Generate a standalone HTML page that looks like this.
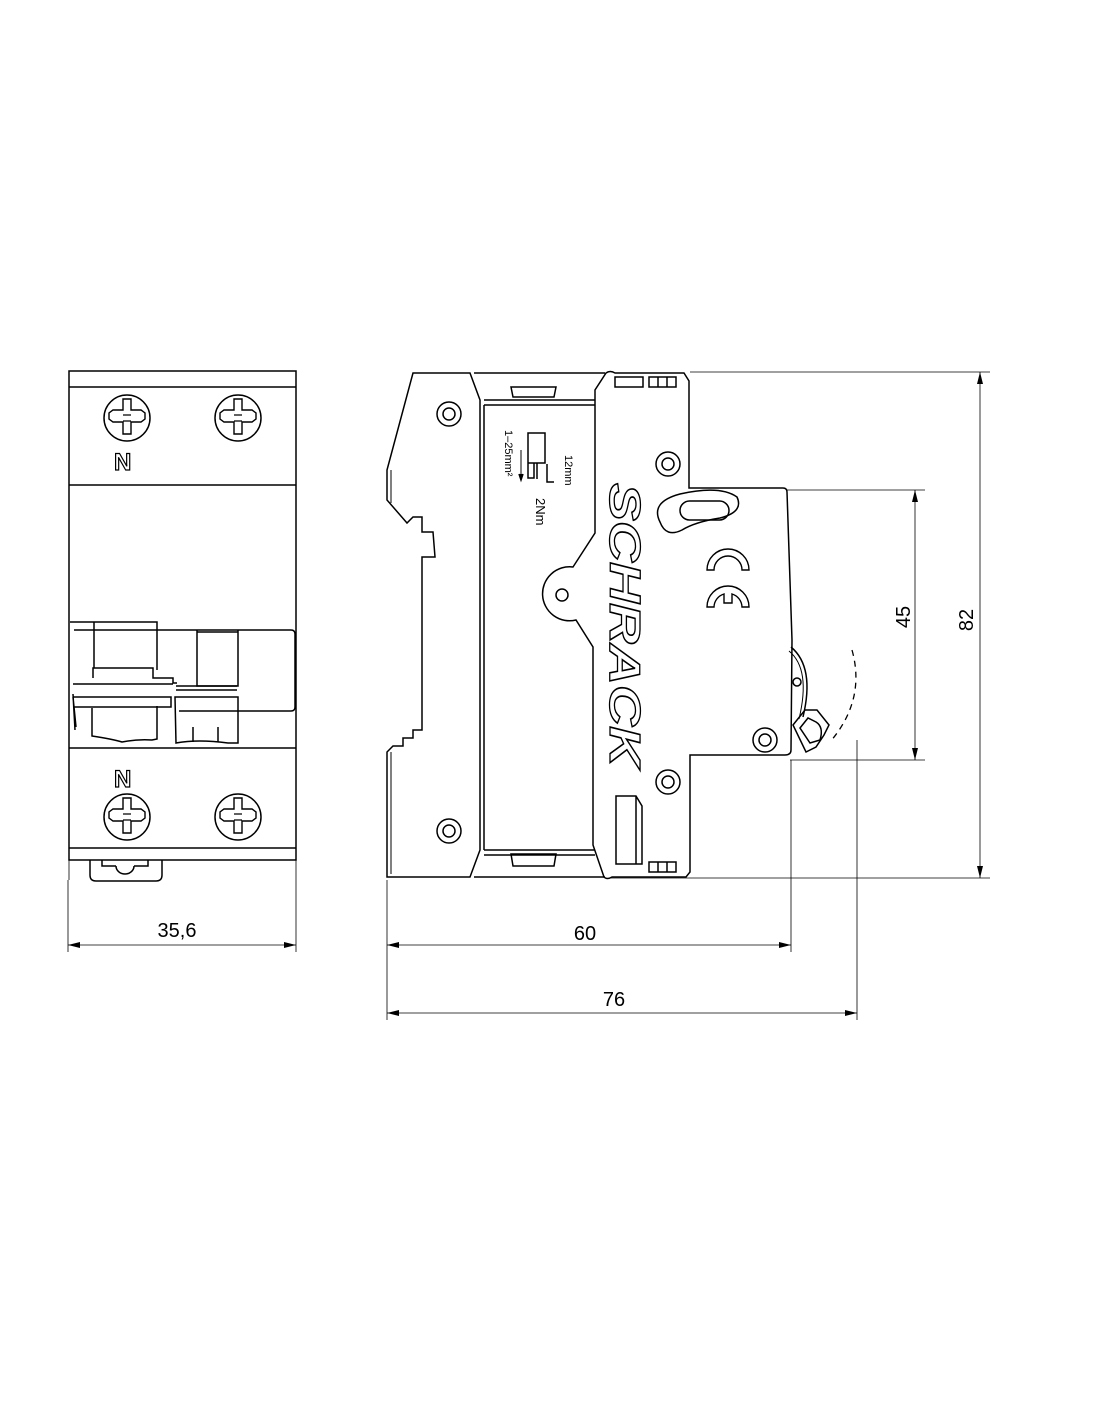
<!DOCTYPE html>
<html><head><meta charset="utf-8"><style>
html,body{margin:0;padding:0;background:#fff;}
svg{display:block;}
text{font-family:"Liberation Sans",sans-serif;}
</style></head><body>
<svg width="1100" height="1422" viewBox="0 0 1100 1422" xmlns="http://www.w3.org/2000/svg">
<defs>
<marker id="ar" viewBox="0 0 12 6" refX="12" refY="3" markerWidth="12" markerHeight="6" orient="auto-start-reverse" markerUnits="userSpaceOnUse"><path d="M0,0 L12,3 L0,6 z" fill="#000"/></marker>
<g id="screw"><circle r="23" fill="none" stroke="#000" stroke-width="1.5"/><path d="M-4,-19 h8 v11 h10 l4,3 v6 l-4,3 h-10 v12 h-8 v-12 h-10 l-4,-3 v-6 l4,-3 h10 z" fill="none" stroke="#000" stroke-width="1.4"/><path d="M-4,-3 h8 M-4,3 h8" stroke="#000" stroke-width="1.2"/></g>
<g id="ring"><circle r="12" fill="none" stroke="#000" stroke-width="1.5"/><circle r="6" fill="none" stroke="#000" stroke-width="1.5"/></g>
</defs>
<g fill="none" stroke="#000" stroke-width="1.5">
<!-- LEFT VIEW -->
<rect x="69" y="371" width="227" height="489"/>
<line x1="69" y1="387" x2="296" y2="387"/>
<line x1="69" y1="485" x2="296" y2="485"/>
<line x1="69" y1="748" x2="296" y2="748"/>
<line x1="69" y1="848" x2="296" y2="848"/>
<line x1="69" y1="860" x2="69" y2="880" stroke-width="0.8"/>
<line x1="296" y1="860" x2="296" y2="880" stroke-width="0.8"/>
<path d="M90,860 v15 q0,6 6,6 h60 q6,0 6,-6 v-15"/>
<path d="M102,860 v6 h14 M148,860 v6 h-14 M116,866 a9,8 0 0 0 18,0"/>
<use href="#screw" x="127" y="418"/>
<use href="#screw" x="238" y="418"/>
<use href="#screw" x="127" y="817"/>
<use href="#screw" x="238" y="817"/>
<!-- toggle -->
<path d="M70,622 h24 v46 M94,622 h63 v48"/>
<path d="M74,630 h217 q4,0 4,4 v73 q0,4 -4,4 h-112"/>
<path d="M197,630 v56 h41 v-56"/>
<path d="M197,632 h41"/>
<path d="M93,678 v-10 h60 v10 h20 v5 h4"/>
<path d="M73,684 h100 M176,686 h61 M176,690 h61"/>
<path d="M73,697 h98 v10 h-98"/>
<path d="M73,694 l2,36 M73,697 l3,30"/>
<path d="M92,708 v28 q20,3 30,6 q15,-3 30,-2 l5,-1 v-33"/>
<path d="M175,697 h63 v46 h-10 q-30,-4 -52,0 z"/>
<path d="M193,727 v15 M218,727 v15"/>
<!-- RIGHT VIEW -->
<!-- left DIN plate -->
<path d="M413,373 H470 L480,400 V850 L470,877 H387 V752 L393,746 H403 V738 H413 V730 H422 V557 H435 L433,532 H422 V517 H413 L407,523 L387,500 V470 Z"/>
<line x1="391" y1="470" x2="391" y2="503" stroke-width="1"/>
<line x1="391" y1="752" x2="391" y2="874" stroke-width="1"/>
<!-- channel -->
<path d="M474,373 h131 M484,405 h111 M484,400 h111 M484,850 h111 M484,855 h111 M474,877 h131"/>
<line x1="484" y1="405" x2="484" y2="850"/>
<path d="M511,387 h45 l-2,10 h-41 z"/>
<path d="M511,854 h45 l-2,12 h-41 z"/>
<!-- middle plate -->
<path d="M606,373 Q610,370 615,373 H684 L689,381 V488 H783 Q787,488 787,492 L792,640 L791,750 Q791,755 785,755 H690 V872 L686,877 H612 Q607,880 604,877 L593,845 V647 L576,620 A27,27 0 1 1 573,567 L595,533 V390 Z"/>
<rect x="615" y="377" width="28" height="10"/>
<path d="M649,377 h27 v10 h-27 z M658,377 v10 M667,377 v10"/>
<path d="M649,862 h27 v10 h-27 z M658,862 v10 M667,862 v10"/>
<path d="M616,796 h20 l6,10 v58 h-26 z M636,796 v68"/>
<!-- oval slot -->
<path d="M660,522 Q650,502 680,494 Q720,485 737,497 Q744,512 720,518 Q695,522 682,530 Q666,538 660,522 Z"/>
<rect x="680" y="501" width="49" height="19" rx="9.5"/>
<!-- CE -->
<path d="M707,570 A21,21 0 0 1 749,570 H742 A14,14 0 0 0 714,570 Z" stroke-width="1.4"/>
<path d="M707,607 A21,21 0 0 1 749,607 H742 A14,14 0 0 0 732,594 V603 H724 V594 A14,14 0 0 0 714,607 Z" stroke-width="1.4"/>
<!-- rings -->
<use href="#ring" x="449" y="414"/>
<use href="#ring" x="668" y="464"/>
<use href="#ring" x="765" y="740"/>
<use href="#ring" x="668" y="782"/>
<use href="#ring" x="449" y="831"/>
<circle cx="562" cy="595" r="6"/>
<!-- knob -->
<path d="M791,647 q24,20 12,70" />
<path d="M789,651 q22,18 10,68" stroke-width="1"/>
<circle cx="797" cy="682" r="4"/>
<path d="M793,725 l12,-15 h12 l12,15 l-5,10 l-8,12 l-10,5 z"/>
<path d="M800,728 l8,-10 l8,4 q8,5 4,18 l-10,3 z"/>
<path d="M852,650 q14,50 -22,92" stroke-dasharray="6,5" stroke-width="1.3"/>
<!-- torque label -->
<path d="M528,433 h17 v30 h-17 z M528,463 v15 h6 v-15 M537,463 v16 M547,464 v18 h7 M547,482 h7"/>
<path d="M521,450 v28" stroke-width="1"/>
<path d="M519,474 l2,6 l2,-6" fill="#000"/>
</g>
<text x="0" y="0" font-size="11" transform="translate(505,430) rotate(90)">1–25mm²</text>
<text x="0" y="0" font-size="11" transform="translate(565,455) rotate(90)">12mm</text>
<text x="0" y="0" font-size="13" transform="translate(536,498) rotate(90)">2Nm</text>
<text x="0" y="0" font-size="44" font-weight="bold" font-style="italic" fill="#fff" stroke="#000" stroke-width="1.3" textLength="284" lengthAdjust="spacingAndGlyphs" transform="translate(610,483) rotate(90)">SCHRACK</text>
<text x="114" y="470" font-size="24" font-weight="bold" fill="#fff" stroke="#000" stroke-width="1.2">N</text>
<text x="114" y="787" font-size="24" font-weight="bold" fill="#fff" stroke="#000" stroke-width="1.2">N</text>
<!-- dimensions -->
<g stroke="#000" stroke-width="0.8" fill="none">
<line x1="690" y1="372" x2="990" y2="372"/>
<line x1="610" y1="878" x2="990" y2="878"/>
<line x1="786" y1="490" x2="925" y2="490"/>
<line x1="790" y1="760" x2="925" y2="760"/>
<line x1="387" y1="880" x2="387" y2="1020"/>
<line x1="791" y1="760" x2="791" y2="952"/>
<line x1="857" y1="740" x2="857" y2="1020"/>
<line x1="68" y1="880" x2="68" y2="952"/>
<line x1="296" y1="880" x2="296" y2="952"/>
<line x1="980" y1="372" x2="980" y2="878" marker-start="url(#ar)" marker-end="url(#ar)"/>
<line x1="915" y1="490" x2="915" y2="760" marker-start="url(#ar)" marker-end="url(#ar)"/>
<line x1="68" y1="945" x2="296" y2="945" marker-start="url(#ar)" marker-end="url(#ar)"/>
<line x1="387" y1="945" x2="791" y2="945" marker-start="url(#ar)" marker-end="url(#ar)"/>
<line x1="387" y1="1013" x2="857" y2="1013" marker-start="url(#ar)" marker-end="url(#ar)"/>
</g>
<text x="177" y="937" font-size="20" text-anchor="middle">35,6</text>
<text x="585" y="940" font-size="20" text-anchor="middle">60</text>
<text x="614" y="1006" font-size="20" text-anchor="middle">76</text>
<text x="0" y="0" font-size="20" text-anchor="middle" transform="translate(910,617) rotate(-90)">45</text>
<text x="0" y="0" font-size="20" text-anchor="middle" transform="translate(973,620) rotate(-90)">82</text>
</svg>
</body></html>
